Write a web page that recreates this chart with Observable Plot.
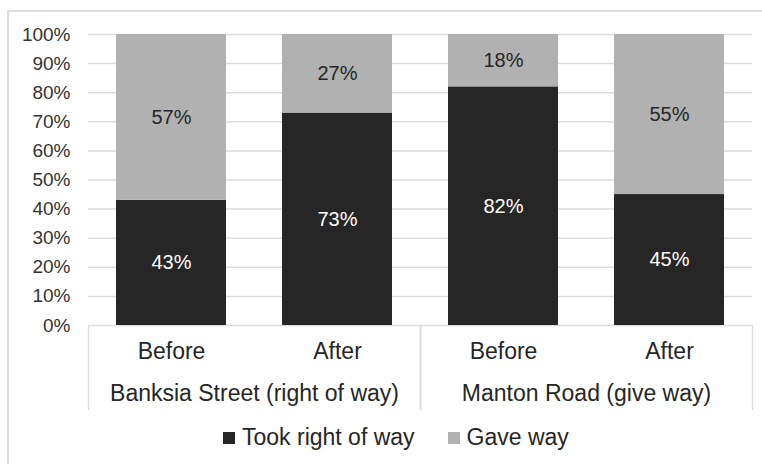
<!DOCTYPE html>
<html>
<head>
<meta charset="utf-8">
<script src="https://cdn.jsdelivr.net/npm/d3@7"></script>
<script src="https://cdn.jsdelivr.net/npm/@observablehq/plot@0.6"></script>
<style>
  html, body { margin: 0; padding: 0; background: #fff; overflow: hidden; }
  body { width: 762px; height: 464px; position: relative; font-family: "Liberation Sans", Arial, sans-serif; }
  #border { position: absolute; left: 7px; top: 10px; width: 820px; height: 520px; border-left: 2px solid #dedede; border-top: 2px solid #dedede; }
  #chart { position: absolute; left: 0; top: 0; }
  .lg-swatch { margin-right: 33px !important; }
  .lg-swatch > svg { margin-right: 7px !important; }
</style>
</head>
<body>
<div id="border"></div>
<div id="chart"></div>
<script>
// ---- data ----
const groups = ["Banksia Street (right of way)", "Manton Road (give way)"];
const periods = ["Before", "After"];
const series = ["Took right of way", "Gave way"];
const tookValues = [43, 73, 82, 45];   // Banksia Before, Banksia After, Manton Before, Manton After
const gaveValues = [57, 27, 18, 55];
const yTicks = [0, 10, 20, 30, 40, 50, 60, 70, 80, 90, 100];
const colors = ["#262626", "#b1b1b1"];

const rows = [];
groups.forEach((g, gi) => {
  periods.forEach((p, pi) => {
    const k = gi * 2 + pi;
    rows.push({group: g, period: p, series: series[0], value: tookValues[k]});
    rows.push({group: g, period: p, series: series[1], value: gaveValues[k]});
  });
});

const W = 762, H = 415, ML = 88, MR = 10, MT = 34, MB = 90;
const step = (W - ML - MR) / (groups.length * periods.length);
const font = "'Liberation Sans', Arial, sans-serif";
const textColor = "#262626";

const chart = Plot.plot({
  width: W,
  height: H,
  marginLeft: ML,
  marginRight: MR,
  marginTop: MT,
  marginBottom: MB,
  style: {fontFamily: font, background: "transparent", overflow: "visible"},
  fx: {domain: groups, padding: 0, label: null},
  x: {domain: periods, paddingInner: 0.337, paddingOuter: 0.1685, label: null},
  y: {domain: [0, 100], label: null},
  color: {domain: series, range: colors},
  marks: [
    Plot.ruleY(yTicks, {stroke: "#dcdcdc", strokeWidth: 1.5}),
    Plot.ruleX(["Before"], {x: d => d, y1: 0, y2: 0, dx: -step / 2, insetBottom: -85, stroke: "#dcdcdc", strokeWidth: 1.5}),
    Plot.ruleX(["After"], {x: d => d, y1: 0, y2: 0, dx: step / 2, insetBottom: -85, stroke: "#dcdcdc", strokeWidth: 1.5}),
    Plot.barY(rows, {fx: "group", x: "period", y: "value", fill: "series"}),
    Plot.text(rows, Plot.stackY({fx: "group", x: "period", y: "value", z: "series",
      text: d => d.series === series[0] ? d.value + "%" : "", fill: "white", fontSize: 20})),
    Plot.text(rows, Plot.stackY({fx: "group", x: "period", y: "value", z: "series",
      text: d => d.series === series[1] ? d.value + "%" : "", fill: textColor, fontSize: 20})),
    Plot.axisY({ticks: yTicks, tickFormat: d => d + "%", tickSize: 0, tickPadding: 18, fontSize: 19, fill: "#333", label: null}),
    Plot.axisX({tickSize: 0, tickPadding: 17, fontSize: 23, fill: textColor, label: null}),
    Plot.axisFx({anchor: "bottom", tickSize: 0, tickPadding: 59, fontSize: 23, fill: textColor, label: null})
  ]
});

const legend = Plot.legend({
  color: {type: "ordinal", domain: series, range: colors},
  swatchSize: 12,
  className: "lg",
  style: {fontSize: "23px", fontFamily: font, color: textColor, marginLeft: "223px", marginTop: "6px"}
});

const host = document.getElementById("chart");
host.appendChild(chart);
host.appendChild(legend);
</script>
</body>
</html>
